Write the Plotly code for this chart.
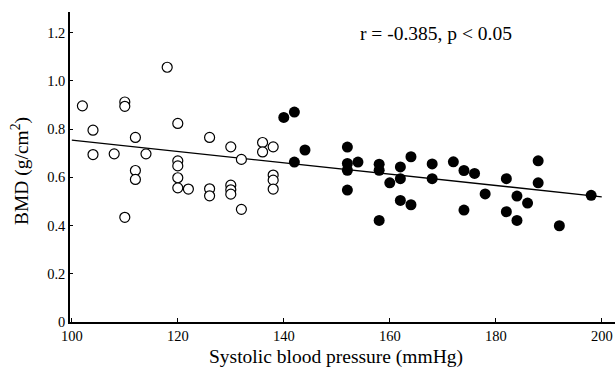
import plotly.graph_objects as go

# Normotensive (open circles)
normo_sbp = [102, 104, 104, 108, 110, 110, 112, 114, 112, 112, 110, 118, 120, 120, 120, 120, 120,
             122, 126, 126, 126, 130, 130, 130, 130, 132, 132, 136, 136, 138, 138, 138, 138]
normo_bmd = [0.896, 0.795, 0.694, 0.697, 0.912, 0.894, 0.765, 0.697, 0.628, 0.591, 0.434, 1.056,
             0.823, 0.668, 0.647, 0.598, 0.556, 0.551, 0.765, 0.552, 0.523, 0.726, 0.567, 0.548,
             0.530, 0.674, 0.467, 0.744, 0.705, 0.726, 0.609, 0.588, 0.551]

# Hypertensive (filled circles)
hyper_sbp = [140, 142, 144, 142, 152, 152, 152, 152, 154, 158, 158, 158, 160, 162, 162, 162, 164,
             164, 168, 168, 172, 174, 176, 174, 178, 182, 182, 184, 184, 186, 188, 188, 192, 198]
hyper_bmd = [0.848, 0.870, 0.713, 0.663, 0.725, 0.657, 0.629, 0.547, 0.663, 0.654, 0.629, 0.421,
             0.577, 0.643, 0.594, 0.504, 0.685, 0.486, 0.655, 0.594, 0.664, 0.628, 0.616, 0.464,
             0.531, 0.594, 0.457, 0.522, 0.421, 0.493, 0.668, 0.577, 0.399, 0.525]

# Regression line
fit_x = [100, 200]
fit_y = [0.754, 0.519]

x_ticks = [100, 120, 140, 160, 180, 200]
y_ticks = [0, 0.2, 0.4, 0.6, 0.8, 1.0, 1.2]
y_ticktext = ["0", "0.2", "0.4", "0.6", "0.8", "1.0", "1.2"]

stat_text = "r = -0.385, p < 0.05"
x_title = "Systolic blood pressure (mmHg)"
y_title = "BMD (g/cm<sup>2</sup>)"

FONT = "Liberation Serif"
W, H = 615, 373
ML, MR, MT, MB = 70, 0, 12, 51

def px_x(p):
    return (p - ML) / (W - ML - MR)

def px_y(p):
    return (H - MB - p) / (H - MT - MB)

fig = go.Figure()
fig.add_trace(go.Scatter(x=fit_x, y=fit_y, mode="lines",
                         line=dict(color="black", width=1.3), showlegend=False))
fig.add_trace(go.Scatter(x=normo_sbp, y=normo_bmd, mode="markers",
                         marker=dict(symbol="circle", size=10, color="white",
                                     line=dict(color="black", width=1.2)),
                         showlegend=False))
fig.add_trace(go.Scatter(x=hyper_sbp, y=hyper_bmd, mode="markers",
                         marker=dict(symbol="circle", size=11, color="black",
                                     line=dict(color="black", width=0)),
                         showlegend=False))

fig.update_layout(
    width=W, height=H,
    margin=dict(l=ML, r=MR, t=MT, b=MB, pad=0),
    paper_bgcolor="white", plot_bgcolor="white",
    font=dict(family=FONT, color="black", size=14.5),
    xaxis=dict(range=[99.66, 202.5], tickvals=x_ticks, ticks="inside", ticklen=4,
               tickwidth=1, tickcolor="black", showline=True, linecolor="black",
               linewidth=1.5, showgrid=False, zeroline=False,
               tickfont=dict(family=FONT, size=14.5)),
    yaxis=dict(range=[0, 1.285], tickvals=y_ticks, ticktext=y_ticktext, ticks="inside",
               ticklen=3, tickwidth=1, tickcolor="black", showline=True,
               linecolor="black", linewidth=1.5, showgrid=False, zeroline=False,
               tickfont=dict(family=FONT, size=14.5)),
    annotations=[
        dict(text=stat_text, xref="paper", yref="paper", x=px_x(435.5), y=px_y(34),
             xanchor="center", yanchor="middle", showarrow=False,
             font=dict(family=FONT, size=19.5)),
        dict(text=x_title, xref="paper", yref="paper", x=px_x(336), y=px_y(357),
             xanchor="center", yanchor="middle", showarrow=False,
             font=dict(family=FONT, size=19.5)),
        dict(text=y_title, xref="paper", yref="paper", x=px_x(20), y=px_y(171),
             xanchor="center", yanchor="middle", showarrow=False, textangle=-90,
             font=dict(family=FONT, size=19.5)),
    ],
)

fig.write_html("out.html")
